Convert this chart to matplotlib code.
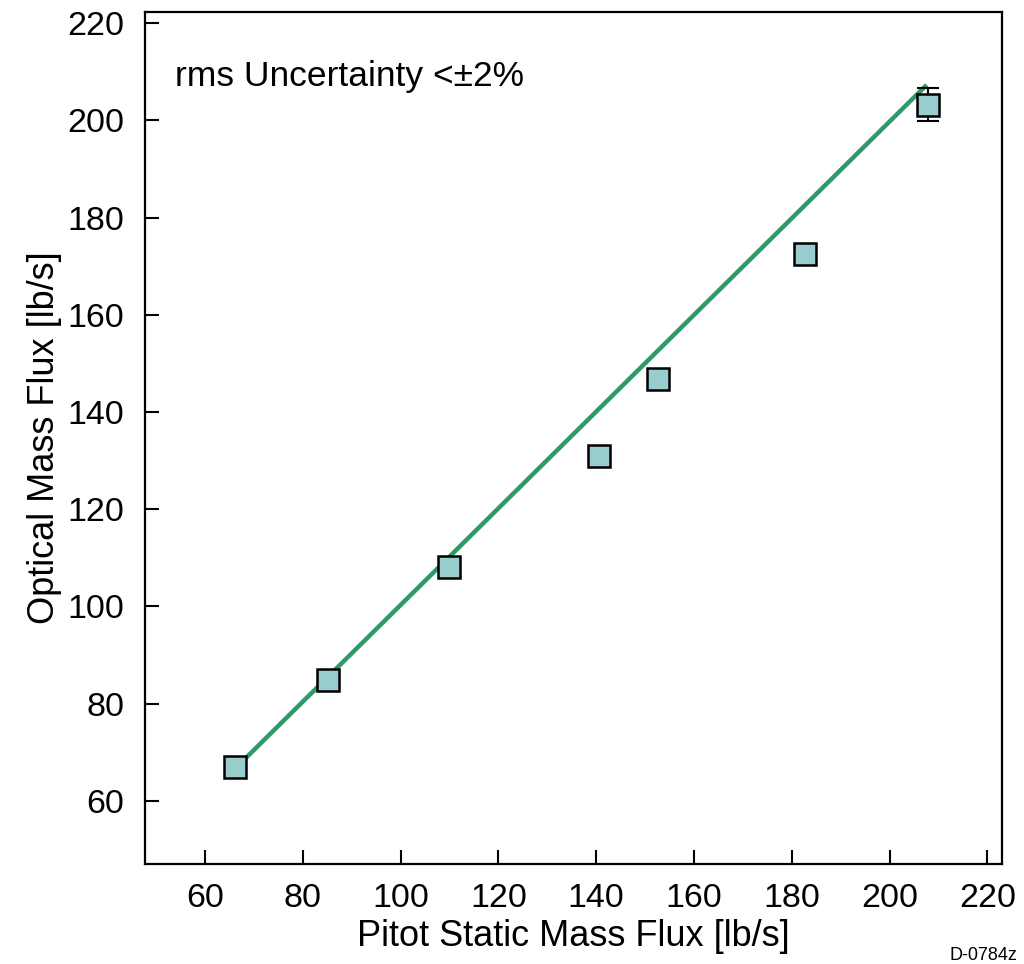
import matplotlib
matplotlib.use("Agg")
import matplotlib.pyplot as plt

plt.rcParams['font.family'] = ['Liberation Sans', 'DejaVu Sans']

# Data
pitot = [66.1, 85.2, 109.9, 140.6, 152.6, 182.7, 207.9]
optical = [67.0, 84.8, 108.1, 131.0, 146.8, 172.6, 203.2]
err_x = [207.9]
err_y = [203.2]
err_val = [3.4]
fit_x = [66.3, 207.6]
fit_y = [66.8, 207.3]
xticks = [60, 80, 100, 120, 140, 160, 180, 200, 220]
yticks = [60, 80, 100, 120, 140, 160, 180, 200, 220]

fig = plt.figure(figsize=(10.24, 9.64), dpi=100)
ax = fig.add_axes([0.1416, 0.1037, 0.8369, 0.8839])

ax.plot(fit_x, fit_y, color='#2e9a68', lw=3.2, zorder=2, solid_capstyle='butt')
ax.errorbar(err_x, err_y, yerr=err_val, fmt='none', ecolor='black', elinewidth=1.5,
            capsize=8, capthick=1.5, zorder=3)
ax.plot(pitot, optical, linestyle='none', marker='s', markersize=15.5,
        markerfacecolor='#99cccc', markeredgecolor='black', markeredgewidth=1.8, zorder=4)

ax.set_xlim(47.7, 223.0)
ax.set_ylim(47.0, 222.3)
ax.set_xticks(xticks)
ax.set_yticks(yticks)
ax.tick_params(direction='in', length=10, width=1.5, labelsize=24.5,
               top=False, right=False)
ax.tick_params(axis='x', pad=14)
ax.tick_params(axis='y', pad=15)
for s in ax.spines.values():
    s.set_linewidth(1.6)

ax.set_xlabel('Pitot Static Mass Flux [lb/s]', fontsize=26, labelpad=3)
ax.set_ylabel('Optical Mass Flux [lb/s]', fontsize=26, labelpad=4)

ax.text(53.9, 207.1, 'rms Uncertainty <±2%', fontsize=25.5, ha='left', va='baseline')
fig.text(0.96, 0.0045, 'D-0784z', fontsize=13, ha='center', va='baseline')

fig.savefig('out.png', dpi=100)
